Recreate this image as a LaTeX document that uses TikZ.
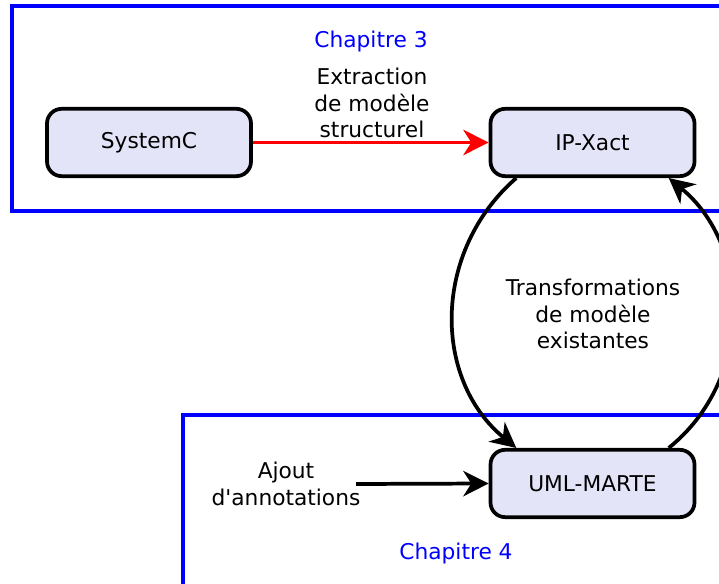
\documentclass[tikz,border=0pt]{standalone}
\usepackage{fontspec}
\setmainfont{DejaVu Sans}[Ligatures=TeXOff]
\usetikzlibrary{arrows.meta}
\definecolor{boxfill}{RGB}{228,228,248}
\begin{document}
\begin{tikzpicture}[x=0.75pt,y=-0.75pt,line width=2.8pt,
  >={Stealth[length=19pt,width=19pt,inset=6pt]},
  model/.style={draw,rounded corners=11pt,fill=boxfill,
    minimum width=153pt,minimum height=50.5pt,inner sep=0pt,
    font=\fontsize{16.3}{20}\selectfont},
  chapter/.style={draw=blue},
  txt/.style={align=center,inner sep=0pt,font=\fontsize{16.3}{20}\selectfont}]
\clip (0,0) rectangle (719,584);
% frames
\draw[chapter] (12,6) rectangle (760,211);
\draw[chapter] (183,415) rectangle (760,610);
\node[txt,blue] (ch3) at (371,42) {Chapitre 3};
\node[txt,blue] (ch4) at (456,554) {Chapitre 4};
% models
\node[model] (systemc) at (149,142.5) {SystemC};
\node[model] (ipxact) at (592.5,142.5) {IP-Xact};
\node[model] (uml) at (592.5,483.5) {UML-MARTE};
\node[txt] (extr) at (372,103) {Extraction\\de modèle\\structurel};
\node[txt] (trans) at (593,314) {Transformations\\de modèle\\existantes};
\node[txt] (ajout) at (286,484) {Ajout\\d'annotations};
% arrows
\draw[->,red] (systemc) -- (ipxact);
\draw[->] (ajout.east) ++(-6,0) -- (uml.west);
\draw[->] (ipxact.205) .. controls +(-84,73) and +(-84,-69) .. (uml.155);
\draw[->] (uml.25) .. controls +(86,-69) and +(83,68) .. (ipxact.-25);
\end{tikzpicture}
\end{document}
